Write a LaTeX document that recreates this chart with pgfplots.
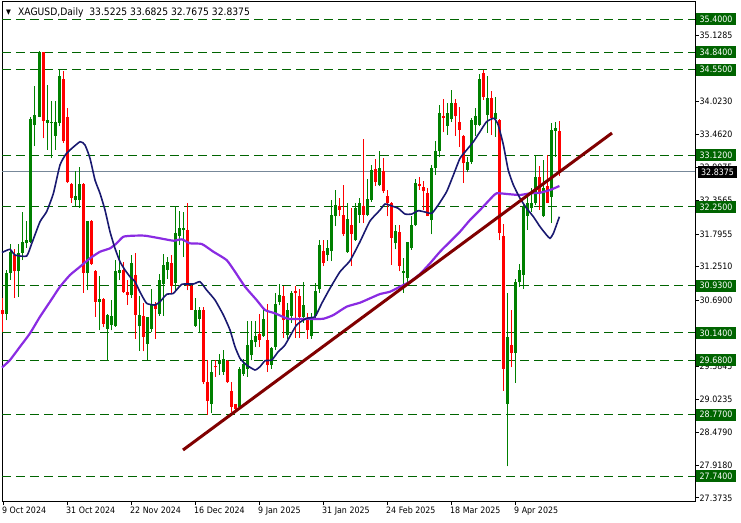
\documentclass[border=0pt]{standalone}
\usepackage{pgfplots}
\usepackage{pgfplotstable}
\pgfplotsset{compat=1.18}
\usepackage{fontspec}
\setmainfont{DejaVu Sans}[FakeStretch=0.9]
\definecolor{bull}{RGB}{0,128,0}
\definecolor{bear}{RGB}{255,0,0}
\definecolor{lvl}{RGB}{0,100,0}
\definecolor{maone}{RGB}{25,25,112}
\definecolor{matwo}{RGB}{138,43,226}
\definecolor{trend}{RGB}{128,0,0}
\definecolor{cur}{RGB}{119,136,153}
\newcommand{\tf}{\fontsize{8.8}{10}\selectfont}
\pgfplotstableread{
i O H L C
1 30.46 31.19 30.35 31.14
2 31.14 31.63 31.03 31.50
4 31.17 31.63 30.74 31.48
5 31.48 32.17 31.36 31.67
6 31.64 32.01 31.56 31.70
7 31.67 33.75 31.64 33.72
8 33.62 34.27 33.27 33.79
9 33.76 34.87 33.75 34.85
11 33.66 34.30 33.21 33.70
12 33.65 34.03 33.07 33.68
13 33.44 34.03 33.21 33.67
14 33.66 34.55 33.60 34.45
18 32.36 32.86 32.26 32.44
19 32.36 32.92 32.23 32.64
21 31.14 32.02 30.85 32.02
24 30.66 31.09 30.18 30.71
26 30.21 30.46 29.67 30.44
27 30.27 30.69 30.18 30.42
28 30.25 31.36 30.24 31.17
29 31.14 31.53 31.03 31.19
32 30.77 31.45 30.72 31.31
34 30.25 30.75 29.84 30.44
36 29.95 30.41 29.69 30.41
37 30.21 30.88 30.15 30.60
39 30.46 31.13 30.43 31.02
40 30.96 31.46 30.43 31.27
41 31.20 31.41 31.05 31.33
43 30.97 32.26 30.85 31.81
44 31.77 32.18 31.61 31.89
45 31.86 32.17 31.41 31.90
48 30.26 30.73 30.24 30.52
49 30.38 30.57 30.13 30.52
52 28.95 29.68 28.79 29.49
54 29.61 29.79 29.43 29.67
55 29.49 29.85 29.44 29.70
59 28.89 29.56 28.85 29.54
60 29.45 29.70 29.42 29.62
61 29.54 30.34 29.40 29.93
62 29.76 30.34 29.68 30.02
63 29.98 30.34 29.90 30.08
65 30.08 30.54 30.07 30.38
67 29.60 29.91 29.54 29.89
68 29.90 30.80 29.85 30.63
69 30.66 30.95 30.60 30.78
71 30.11 30.64 30.04 30.53
72 30.42 30.84 30.31 30.80
75 30.41 31.00 30.31 30.61
77 30.08 30.47 30.04 30.41
78 30.42 30.98 30.36 30.84
79 30.87 31.70 30.81 31.62
81 31.45 31.70 31.34 31.56
82 31.51 32.37 31.34 32.12
83 32.09 32.54 31.93 32.29
86 31.49 32.32 31.48 32.04
88 31.69 32.32 31.68 32.23
89 32.12 32.40 31.98 32.31
91 32.12 32.72 32.09 32.38
92 32.37 32.96 32.34 32.87
94 32.61 33.19 32.60 32.90
98 31.64 31.95 31.54 31.84
100 31.15 31.40 30.81 31.18
101 31.06 31.67 30.98 31.67
102 31.56 32.09 31.53 31.95
103 31.94 32.72 31.93 32.65
107 32.03 32.95 31.79 32.91
108 32.90 33.35 32.79 33.19
109 33.18 33.96 33.08 33.83
111 33.61 33.99 33.46 33.83
112 33.72 34.21 33.68 33.99
116 32.87 33.09 32.83 33.01
117 33.01 33.74 32.97 33.71
118 33.63 33.91 33.44 33.77
119 33.63 34.48 33.60 34.39
121 33.79 34.45 33.49 34.07
123 33.72 34.10 33.43 33.82
126 28.95 30.80 27.90 30.07
128 29.80 31.05 29.30 30.99
129 30.99 31.29 30.91 31.19
130 31.11 32.32 30.88 32.27
131 32.10 32.42 31.86 32.31
132 32.23 32.56 32.17 32.31
133 32.31 33.12 32.28 32.76
135 32.09 33.04 32.08 32.56
137 32.42 33.66 31.98 33.54
138 33.53 33.68 33.09 33.57
}\bulltab
\pgfplotstableread{
i O H L C
0 30.52 30.72 30.16 30.45
3 31.45 31.54 30.73 31.17
10 34.84 34.85 33.40 33.69
15 34.40 34.53 33.33 33.35
16 33.75 33.90 32.65 32.66
17 32.64 32.65 32.32 32.40
20 32.64 32.65 30.81 31.14
22 32.02 32.03 31.28 31.29
23 31.18 31.19 30.41 30.66
25 30.71 30.72 30.23 30.29
30 31.19 31.33 30.81 30.82
31 30.83 31.03 30.61 30.77
33 31.11 31.47 30.04 30.44
35 30.43 30.64 29.83 30.07
38 30.60 30.66 30.04 30.54
42 31.31 31.44 30.80 30.93
46 31.87 32.31 30.85 30.93
47 30.93 30.94 30.52 30.53
50 30.52 30.57 29.28 29.31
51 29.32 29.69 28.77 29.00
53 29.59 29.68 29.40 29.56
56 29.67 29.68 29.30 29.31
57 29.16 29.31 28.81 28.90
58 28.94 28.95 28.79 28.87
64 30.12 30.46 29.90 30.02
66 30.02 30.63 29.48 29.60
70 30.75 30.92 30.06 30.35
73 30.84 30.93 30.06 30.81
74 30.76 30.87 30.06 30.41
76 30.39 30.47 30.04 30.18
80 31.51 31.70 31.26 31.31
84 32.27 32.40 32.09 32.20
85 32.12 32.62 31.76 31.79
87 31.95 32.23 31.26 31.80
90 32.27 33.39 31.98 32.12
93 32.89 33.05 32.60 32.66
95 32.86 33.07 32.48 32.51
96 32.44 32.54 32.09 32.32
97 32.32 32.33 31.28 31.73
99 31.83 31.95 31.17 31.26
104 32.64 32.76 32.54 32.60
105 32.58 32.68 32.20 32.51
106 32.48 32.56 32.09 32.10
110 33.78 34.06 33.50 33.74
113 33.99 34.06 33.44 33.77
114 33.68 33.93 33.26 33.54
115 33.44 33.46 32.65 32.98
120 34.49 34.55 34.05 34.10
122 34.07 34.19 33.46 33.74
124 33.71 33.72 31.69 31.81
125 31.76 31.97 29.17 29.54
127 29.93 30.52 29.56 29.80
134 32.76 32.93 32.20 32.48
136 32.60 33.12 32.31 32.32
139 33.5225 33.6825 32.7675 32.8375
}\beartab
\begin{document}
\begin{tikzpicture}[x=1pt,y=1pt]
\path[use as bounding box] (0,0) rectangle (741,522);
\begin{axis}[
  at={(2pt,21pt)}, anchor=south west,
  scale only axis, width=693pt, height=500pt,
  xmin=-0.25, xmax=173, ymin=27.321, ymax=35.702,
  clip=false,
  axis line style={black, line width=0.8pt},
  tick align=outside, major tick length=3.5pt,
  tick style={black, line width=0.8pt},
  xtick pos=left, ytick pos=right, yticklabel pos=right,
  xtick={0,16,32,48,64,80,96,112,128},
  xticklabels={9 Oct 2024,31 Oct 2024,22 Nov 2024,16 Dec 2024,9 Jan 2025,31 Jan 2025,24 Feb 2025,18 Mar 2025,9 Apr 2025},
  xticklabel style={font=\tf, anchor=north west, inner sep=0pt, text height=6.4pt, text depth=0pt, xshift=-1pt, yshift=-2pt},
  ytick={35.1285,34.5675,34.023,33.462,32.9075,32.3565,31.7955,31.251,30.69,30.1345,29.5845,29.0235,28.479,27.918,27.3735},
  yticklabels={35.1285,34.5675,34.0230,33.4620,32.9075,32.3565,31.7955,31.2510,30.6900,30.1345,29.5845,29.0235,28.4790,27.9180,27.3735},
  yticklabel style={font=\tf, anchor=west, inner sep=0pt, text height=6.4pt, text depth=0pt, xshift=1pt},
  extra y ticks={35.40,34.84,34.55,33.12,32.25,30.93,30.14,29.68,28.77,27.74},
  extra y tick labels={35.4000,34.8400,34.5500,33.1200,32.2500,30.9300,30.1400,29.6800,28.7700,27.7400},
  extra y tick style={grid=major, major grid style={lvl, line width=1pt, dash pattern=on 9pt off 5pt},
    yticklabel style={fill=lvl, text=white, inner xsep=3.5pt, inner ysep=2.8pt, xshift=-3.5pt}},
  candle/.style={draw=none, mark=none, forget plot, error bars/.cd, y dir=plus, y explicit, error mark=none},
]
% current price line
\addplot[cur, line width=1pt] coordinates {(-0.25,32.8375) (173,32.8375)};
% wicks
\addplot[candle, error bar style={draw=bull, line width=1pt}]
  table[x=i, y=L, y error plus expr=\thisrow{H}-\thisrow{L}] {\bulltab};
\addplot[candle, error bar style={draw=bear, line width=1pt}]
  table[x=i, y=L, y error plus expr=\thisrow{H}-\thisrow{L}] {\beartab};
% bodies
\addplot[candle, error bar style={draw=bull, line width=3pt}]
  table[x=i, y=O, y error plus expr=\thisrow{C}-\thisrow{O}] {\bulltab};
\addplot[candle, error bar style={draw=bear, line width=3pt}]
  table[x=i, y=C, y error plus expr=\thisrow{O}-\thisrow{C}] {\beartab};
% slow MA
\addplot[matwo, line width=2.2pt, smooth, tension=0.3] coordinates {
(-0.25,29.558) (1.75,29.684) (4.25,29.907) (6.75,30.132) (9.25,30.410) (11.75,30.661)
(14.25,30.913) (16.75,31.109) (19.25,31.248) (21.75,31.389) (24.25,31.499) (26.75,31.556)
(28.4,31.640) (30.1,31.751) (32.6,31.768) (35.5,31.768) (39.25,31.724) (42.6,31.684)
(44.7,31.707) (46.75,31.640) (49.7,31.629) (52.6,31.499) (55.9,31.360) (58,31.164)
(60.5,30.913) (63.4,30.690) (65.5,30.522) (68,30.467) (70.5,30.393) (71.75,30.371)
(76.75,30.371) (80.1,30.376) (82.6,30.438) (85.9,30.578) (89.25,30.645) (91.75,30.718)
(94.25,30.790) (96.75,30.829) (99.25,30.913) (101.75,30.997) (104.25,31.126) (106.75,31.305)
(109.25,31.499) (111.75,31.667) (114.25,31.835) (116.75,32.031) (119.25,32.198) (121.75,32.378)
(123.4,32.478) (126.75,32.462) (129.25,32.450) (131.75,32.478) (134.25,32.488) (136.75,32.534)
(139.1,32.601)};
% fast MA
\addplot[maone, line width=1.6pt, smooth, tension=0.3] coordinates {
(-0.25,31.486) (1.75,31.540) (3,31.444) (5.9,31.427) (7.2,31.640) (9.25,32.002) (10.9,32.170)
(12.6,32.478) (14.25,32.953) (15.9,33.149) (19.25,33.343) (20.5,33.288) (21.75,33.065)
(23,32.701) (24.25,32.478) (25.5,32.198) (26.75,31.835) (28,31.556) (29.25,31.332)
(30.5,31.193) (31.75,31.080) (33,30.997) (34.25,30.824) (35.9,30.635) (38,30.606)
(39.25,30.661) (40.9,30.785) (42.6,30.802) (44.7,30.953) (47.6,30.958) (49.25,30.997)
(50.9,30.858) (53,30.690) (55.1,30.438) (56.75,30.187) (58,29.907) (59.25,29.713)
(60.9,29.600) (63,29.517) (64.25,29.572) (65.5,29.672) (67.2,29.684) (68.8,29.823)
(70.5,29.936) (73.4,30.271) (75.9,30.383) (78,30.410) (79.7,30.635) (81.75,30.886)
(84.25,31.164) (86.75,31.349) (89.25,31.667) (91.75,32.014) (94.25,32.198) (95.5,32.299)
(97.2,32.266) (98.8,32.227) (100.5,32.131) (102.2,32.131) (103.8,32.187) (105.5,32.165)
(107.2,32.143) (108.8,32.282) (110.9,32.505) (112.6,32.785) (114.25,33.065) (115.9,33.204)
(117.6,33.343) (119.25,33.511) (120.9,33.679) (122.75,33.736) (123.8,33.623) (125.1,33.288)
(126.3,32.869) (127.6,32.617) (129.25,32.395) (130.9,32.227) (132.6,32.086) (134.25,31.919)
(135.9,31.779) (136.75,31.724) (137.6,31.808) (139.1,32.086)};
% trend line
\addplot[trend, line width=3pt] coordinates {(45,28.176) (152.25,33.489)};
% current price label
\node[fill=black, text=white, font=\tf, anchor=west, inner xsep=3.5pt, inner ysep=2.8pt,
  text height=6.4pt, text depth=0pt] at (axis cs:173,32.8375) [xshift=2.5pt] {32.8375};
\end{axis}
\node[anchor=base west, font=\fontsize{7}{8}\selectfont, inner sep=0pt] at (6,507.5) {▼};
\node[anchor=base west, font=\fontsize{10.2}{12}\selectfont, inner sep=0pt] at (18,506.5) {XAGUSD,Daily\ \ 33.5225 33.6825 32.7675 32.8375};
\end{tikzpicture}
\end{document}
